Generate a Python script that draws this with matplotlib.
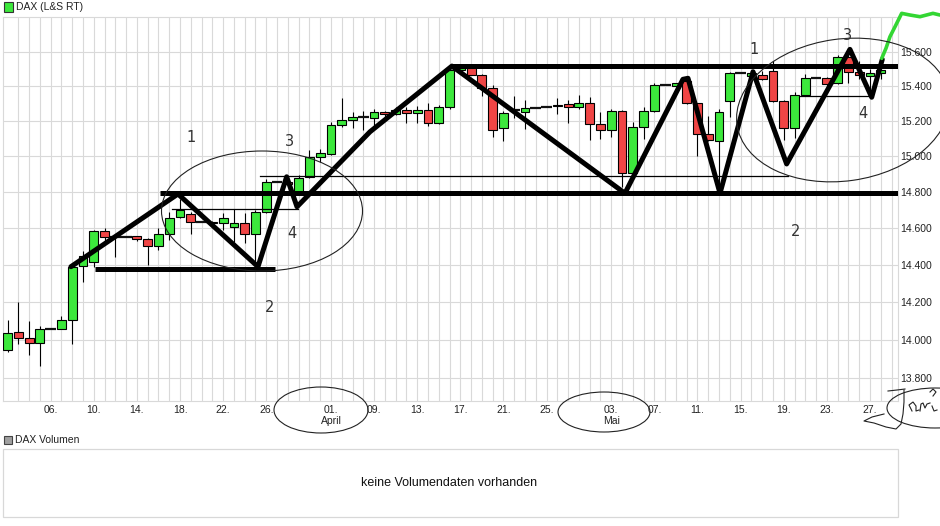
import numpy as np
import matplotlib
matplotlib.use("Agg")
import matplotlib.pyplot as plt
from matplotlib.patches import Ellipse, Rectangle
from matplotlib.ticker import FixedLocator, NullLocator, FuncFormatter

# DAX daily candles (one slot per trading day)
opens = [13944, 14040, 14009, 13983, 14055, 14056, 14104, 14394, 14414, 14585,
         14552, 14552, 14557, 14541, 14503, 14568, 14662, 14678, 14634, 14634,
         14626, 14606, 14626, 14568, 14690, 14858, 14858, 14793, 14885, 14994,
         15011, 15177, 15207, 15222, 15218, 15254, 15241, 15264, 15248, 15264,
         15190, 15280, 15495, 15504, 15467, 15390, 15160, 15265, 15254, 15275,
         15280, 15284, 15300, 15283, 15306, 15184, 15148, 15258, 14906, 15164,
         15258, 15406, 15402, 15430, 15306, 15125, 15088, 15313, 15475, 15460,
         15467, 15491, 15318, 15160, 15352, 15450, 15450, 15418, 15571, 15483,
         15460, 15480]
highs = [14105, 14200, 14100, 14073, 14057, 14126, 14390, 14477, 14589, 14600,
         14560, 14552, 14557, 14548, 14600, 14690, 14760, 14690, 14634, 14640,
         14683, 14707, 14685, 14700, 14871, 14858, 14870, 14895, 15036, 15042,
         15193, 15335, 15250, 15257, 15270, 15258, 15280, 15280, 15285, 15306,
         15293, 15517, 15510, 15515, 15470, 15406, 15256, 15346, 15319, 15275,
         15280, 15332, 15319, 15352, 15336, 15250, 15270, 15264, 15193, 15283,
         15418, 15406, 15422, 15440, 15306, 15231, 15270, 15484, 15475, 15485,
         15488, 15545, 15320, 15365, 15473, 15450, 15455, 15585, 15590, 15545,
         15500, 15510]
lows = [13938, 13977, 13921, 13863, 14055, 14056, 13977, 14307, 14390, 14520,
        14440, 14552, 14528, 14400, 14482, 14533, 14655, 14568, 14634, 14620,
        14590, 14525, 14519, 14380, 14685, 14858, 14840, 14785, 14880, 14970,
        15005, 15167, 15160, 15148, 15165, 15212, 15235, 15187, 15187, 15170,
        15185, 15270, 15490, 15467, 15346, 15112, 15085, 15218, 15155, 15275,
        15280, 15240, 15190, 15270, 15091, 15100, 15112, 14830, 14900, 15100,
        15255, 15406, 15400, 15300, 15003, 15088, 14793, 15222, 15475, 15455,
        15435, 15310, 15094, 15102, 15345, 15450, 15405, 15415, 15418, 15440,
        15365, 15440]
closes = [14038, 14009, 13983, 14056, 14057, 14104, 14390, 14448, 14585, 14552,
          14552, 14552, 14541, 14503, 14568, 14658, 14698, 14636, 14634, 14626,
          14658, 14626, 14568, 14690, 14858, 14858, 14845, 14877, 14994, 15019,
          15177, 15207, 15222, 15222, 15254, 15241, 15264, 15248, 15264, 15190,
          15280, 15498, 15505, 15467, 15393, 15148, 15245, 15265, 15275, 15275,
          15280, 15293, 15283, 15306, 15184, 15148, 15258, 14906, 15164, 15258,
          15406, 15406, 15418, 15306, 15125, 15094, 15254, 15475, 15475, 15480,
          15440, 15318, 15160, 15352, 15450, 15450, 15412, 15571, 15483, 15465,
          15478, 15495]

tick_slots = [4, 8, 12, 16, 20, 24, 30, 34, 38, 42, 46, 50, 56, 60, 64, 68, 72, 76, 80]
tick_labels = ['06.', '10.', '14.', '18.', '22.', '26.', '01.\nApril', '09.', '13.',
               '17.', '21.', '25.', '03.\nMai', '07.', '11.', '15.', '19.', '23.', '27.']
price_ticks = [13800, 14000, 14200, 14400, 14600, 14800, 15000, 15200, 15400, 15600]

# hand drawn analysis (slot, price)
zig_x = [5.88, 15.81, 23.23, 25.89, 26.85, 33.62, 41.22, 57.27, 62.65, 63.12,
         66.09, 69.15, 72.27, 78.14, 80.16, 81.14]
zig_y = [14390, 14789, 14390, 14885, 14718, 15139, 15518, 14793, 15441, 15447,
         14793, 15485, 14957, 15616, 15337, 15557]
thick_lines = [((8.1, 24.8), 14380), ((14.1, 82.6), 14792), ((41.2, 82.6), 15516)]
thin_lines = [((15.3, 26.9), 14704), ((23.4, 72.4), 14888), ((73.5, 80.2), 15345)]
squiggle_x = [81.09, 81.49, 81.85, 82.32, 82.94, 83.71, 84.64, 85.84, 86.49]
squiggle_y = [15563, 15623, 15690, 15749, 15829, 15819, 15809, 15829, 15819]

green = '#3ce83c'
red = '#f04545'
grid_c = '#d9d9d9'

fig = plt.figure(figsize=(9.4, 5.26), dpi=100)
W, H = 940, 526
ax = fig.add_axes([2.7 / W, 1 - 401 / H, (898 - 2.7) / W, (401 - 16.7) / H])
ax.set_yscale('log')
ax.set_ylim(13681, 15809)
ax.set_xlim(-0.45, 82.6)

x = np.arange(len(opens))
for i in x:
    o, h, l, c = opens[i], highs[i], lows[i], closes[i]
    if h > l:
        ax.vlines(i, l, h, color='black', lw=0.8, zorder=2)
    if abs(c - o) < 4:
        ax.hlines((o + c) / 2, i - 0.5, i + 0.5, color='#111111', lw=1.6, zorder=3)
    else:
        ax.bar(i, abs(c - o), bottom=min(o, c), width=0.82,
               color=green if c > o else red, edgecolor='black', lw=0.8, zorder=3)

# analysis lines
ax.plot(zig_x, zig_y, color='black', lw=3.6, solid_joinstyle='round',
        solid_capstyle='round', zorder=5)
for (x0, x1), y in thick_lines:
    ax.plot([x0, x1], [y, y], color='black', lw=3.6, solid_capstyle='butt', zorder=5)
for (x0, x1), y in thin_lines:
    ax.plot([x0, x1], [y, y], color='black', lw=0.9, zorder=4)
ax.plot(squiggle_x, squiggle_y, color='#33d633', lw=2.6, clip_on=False,
        solid_capstyle='round', zorder=6)

# axes styling
ax.yaxis.tick_right()
ax.yaxis.set_major_locator(FixedLocator(price_ticks))
ax.yaxis.set_minor_locator(NullLocator())
ax.yaxis.set_major_formatter(FuncFormatter(lambda v, p: f'{v:,.0f}'.replace(',', '.')))
ax.set_xticks(tick_slots)
ax.set_xticklabels(tick_labels, linespacing=1.15)
ax.set_xticks(np.arange(1, 83), minor=True)
ax.tick_params(axis='both', which='both', length=0, labelsize=7.5, labelcolor='#222222',
               labelfontfamily='Liberation Sans')
ax.tick_params(axis='y', pad=1.5)
ax.tick_params(axis='x', pad=3)
ax.grid(True, which='both', axis='x', color=grid_c, lw=0.8)
ax.grid(True, which='major', axis='y', color=grid_c, lw=0.8)
ax.set_axisbelow(True)
for s in ax.spines.values():
    s.set_color(grid_c)
    s.set_linewidth(0.8)

# overlay in pixel units for header, volume panel and freehand marks
ov = fig.add_axes([0, 0, 1, 1], zorder=10)
ov.set_xlim(0, W)
ov.set_ylim(H, 0)
ov.axis('off')
ov.patch.set_alpha(0)

ov.add_patch(Rectangle((4, 2), 9, 9.5, facecolor=green, edgecolor='#333333', lw=0.8))
ov.text(16, 7, 'DAX (L&S RT)', fontsize=7.5, family='Liberation Sans',
        va='center', color='#222222')
ov.add_patch(Rectangle((4, 436), 7.5, 7.5, facecolor='#a0a0a0', edgecolor='#444444', lw=0.8))
ov.text(15, 440, 'DAX Volumen', fontsize=7.5, family='Liberation Sans',
        va='center', color='#222222')
ov.add_patch(Rectangle((3, 449), 895, 68, facecolor='none', edgecolor='#d8d8d8', lw=0.9))
ov.text(449, 483, 'keine Volumendaten vorhanden', fontsize=9, family='Liberation Sans',
        ha='center', va='center', color='#111111')

for cx, cy, w, h, ang in [(262, 211, 201, 120, 0), (843, 110, 214, 142, -8),
                          (321, 410, 94, 46, 0), (604, 412, 92, 40, 0),
                          (935, 408, 96, 40, 0)]:
    ov.add_patch(Ellipse((cx, cy), w, h, angle=ang, fill=False,
                         edgecolor='#222222', lw=0.8))

for tx, ty, t in [(191, 138, '1'), (290, 142, '3'), (292, 233, '4'), (270, 307, '2'),
                  (754, 49, '1'), (848, 36, '3'), (863, 113, '4'), (796, 231, '2')]:
    ov.text(tx, ty, t, fontsize=10.5, ha='center', va='center', color='#333333')

# signature scribble
sig = [
    [(888, 391), (897, 390), (905, 389)],
    [(904, 390), (904, 402), (903, 414), (901, 424), (896, 429), (886, 427),
     (874, 423), (864, 421), (872, 417), (884, 414)],
    [(912, 411), (909, 405), (913, 402), (916, 406), (916, 411), (919, 410)],
    [(920, 411), (921, 404), (923, 403), (925, 408), (927, 404), (930, 403)],
    [(932, 406), (934, 411), (937, 410)],
    [(930, 392), (933, 389), (936, 392), (933, 396)],
]
for stroke in sig:
    xs, ys = zip(*stroke)
    ov.plot(xs, ys, color='#222222', lw=0.8)

fig.savefig('out.png', dpi=100)
